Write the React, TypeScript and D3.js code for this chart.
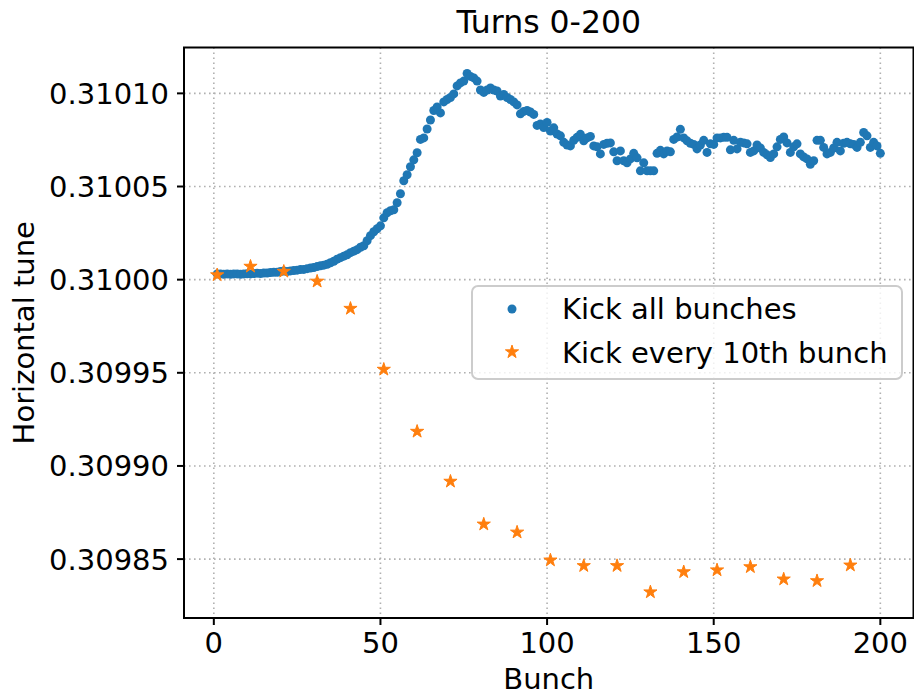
import React from "react";
import * as d3 from "d3";

// bunch index for the "all bunches" series
const bunchesAll = d3.range(1, 201);
const tuneAll = [
  0.3100031, 0.3100031, 0.3100029, 0.3100031, 0.3100029, 0.3100031, 0.3100031, 0.3100029, 0.3100031, 0.3100032,
  0.3100031, 0.3100033, 0.3100035, 0.3100033, 0.3100036, 0.3100036, 0.3100038, 0.310004, 0.310004, 0.3100044,
  0.3100046, 0.3100044, 0.3100047, 0.3100049, 0.3100051, 0.3100054, 0.3100055, 0.3100059, 0.3100062, 0.3100065,
  0.310007, 0.3100074, 0.3100078, 0.3100083, 0.3100091, 0.3100099, 0.310011, 0.3100118, 0.3100126, 0.3100134,
  0.3100145, 0.3100153, 0.3100161, 0.3100174, 0.3100182, 0.3100209, 0.3100236, 0.3100257, 0.3100273, 0.3100289,
  0.3100332, 0.3100359, 0.310037, 0.3100375, 0.3100413, 0.3100461, 0.3100531, 0.3100563, 0.3100606, 0.3100643,
  0.3100681, 0.3100753, 0.3100761, 0.3100809, 0.3100857, 0.3100908, 0.3100927, 0.3100895, 0.3100954, 0.3100967,
  0.3100978, 0.3100997, 0.310104, 0.3101056, 0.3101066, 0.3101107, 0.3101091, 0.3101083, 0.3101066, 0.3101018,
  0.3101005, 0.3101018, 0.3101029, 0.3101018, 0.3101013, 0.3100986, 0.3100994, 0.3100978, 0.3100967, 0.3100954,
  0.3100938, 0.310089, 0.3100903, 0.3100908, 0.31009, 0.3100887, 0.3100828, 0.3100836, 0.3100817, 0.3100844,
  0.3100798, 0.3100815, 0.3100782, 0.3100772, 0.3100737, 0.3100723, 0.3100718, 0.3100748, 0.3100764, 0.310078,
  0.3100745, 0.3100761, 0.3100769, 0.3100718, 0.3100713, 0.3100675, 0.3100726, 0.3100732, 0.3100734, 0.3100686,
  0.3100638, 0.3100691, 0.3100638, 0.3100627, 0.3100648, 0.3100678, 0.3100654, 0.3100584, 0.3100627, 0.3100584,
  0.3100584, 0.3100584, 0.3100678, 0.3100694, 0.3100675, 0.3100691, 0.3100686, 0.3100753, 0.3100766, 0.3100807,
  0.3100761, 0.3100745, 0.3100732, 0.3100726, 0.3100702, 0.3100723, 0.3100748, 0.3100683, 0.3100729, 0.3100726,
  0.3100761, 0.3100761, 0.3100764, 0.3100764, 0.3100697, 0.3100748, 0.3100702, 0.3100737, 0.3100734, 0.3100729,
  0.3100683, 0.3100691, 0.3100723, 0.3100707, 0.3100683, 0.310067, 0.3100656, 0.3100675, 0.3100713, 0.3100753,
  0.3100766, 0.3100734, 0.3100683, 0.3100713, 0.3100729, 0.3100675, 0.3100659, 0.3100648, 0.3100619, 0.3100638,
  0.3100748, 0.3100748, 0.310071, 0.3100675, 0.3100683, 0.3100707, 0.3100737, 0.3100691, 0.3100732, 0.3100737,
  0.3100729, 0.3100726, 0.310071, 0.3100737, 0.310079, 0.3100772, 0.310071, 0.3100737, 0.3100718, 0.3100678,
];

const bunchesTenth = [1, 11, 21, 31, 41, 51, 61, 71, 81, 91, 101, 111, 121, 131, 141, 151, 161, 171, 181, 191];
const tuneTenth = [
  0.3100025, 0.3100071, 0.3100044, 0.3099991, 0.3099845, 0.3099518, 0.3099185, 0.3098917, 0.3098687, 0.3098644,
  0.3098494, 0.3098464, 0.3098464, 0.3098323, 0.3098431, 0.3098441, 0.3098458, 0.3098392, 0.3098383, 0.3098467,
];

const xTicks = [0, 50, 100, 150, 200];
const yTicks = [0.30985, 0.3099, 0.30995, 0.31, 0.31005, 0.3101];
const seriesNames = ["Kick all bunches", "Kick every 10th bunch"];

const W = 914;
const H = 696;
const left = 184;
const right = 913.5;
const top = 47.5;
const bottom = 618;
const font = "DejaVu Sans, sans-serif";
const blue = "#1f77b4";
const orange = "#ff7f0e";

// matplotlib style 5% margins
const pad = (lo: number, hi: number) => {
  const m = (hi - lo) * 0.05;
  return [lo - m, hi + m];
};

const App = () => {
  const x = d3.scaleLinear().domain(pad(1, 200)).range([left, right]);
  const allY = [...tuneAll, ...tuneTenth];
  const y = d3.scaleLinear().domain(pad(d3.min(allY)!, d3.max(allY)!)).range([bottom, top]);
  const fmt = d3.format(".5f");
  const star = d3.symbol(d3.symbolStar, 54)();

  return (
    <div style={{ position: "absolute", left: 0, top: 0 }}>
      <svg width={W} height={H} style={{ display: "block", background: "#fff" }} fontFamily={font}>
        {/* grid */}
        {xTicks.map((t) => (
          <line key={"gx" + t} x1={x(t)} x2={x(t)} y1={top} y2={bottom}
            stroke="#b0b0b0" strokeWidth={1.6} strokeDasharray="1.6,3.4" />
        ))}
        {yTicks.map((t) => (
          <line key={"gy" + t} x1={left} x2={right} y1={y(t)} y2={y(t)}
            stroke="#b0b0b0" strokeWidth={1.6} strokeDasharray="1.6,3.4" />
        ))}

        {/* series */}
        {bunchesAll.map((b, i) => (
          <circle key={"a" + b} cx={x(b)} cy={y(tuneAll[i])} r={4.5} fill={blue} />
        ))}
        {bunchesTenth.map((b, i) => (
          <path key={"t" + b} d={star} transform={`translate(${x(b)},${y(tuneTenth[i])})`}
            fill={orange} stroke={orange} strokeWidth={1} strokeLinejoin="round" />
        ))}

        {/* frame */}
        <rect x={left} y={top} width={right - left} height={bottom - top}
          fill="none" stroke="#000" strokeWidth={2} />

        {/* x axis */}
        {xTicks.map((t) => (
          <g key={"xt" + t}>
            <line x1={x(t)} x2={x(t)} y1={bottom} y2={bottom + 7} stroke="#000" strokeWidth={2} />
            <text x={x(t)} y={653} textAnchor="middle" fontSize={29}>{t}</text>
          </g>
        ))}
        {/* y axis */}
        {yTicks.map((t) => (
          <g key={"yt" + t}>
            <line x1={left - 7} x2={left} y1={y(t)} y2={y(t)} stroke="#000" strokeWidth={2} />
            <text x={169} y={y(t) + 10.5} textAnchor="end" fontSize={29}>{fmt(t)}</text>
          </g>
        ))}

        <text x={(left + right) / 2} y={33} textAnchor="middle" fontSize={31.5}>Turns 0-200</text>
        <text x={(left + right) / 2} y={689} textAnchor="middle" fontSize={29}>Bunch</text>
        <text transform={`translate(34,${(top + bottom) / 2}) rotate(-90)`} textAnchor="middle" fontSize={29}>
          Horizontal tune
        </text>

        {/* legend */}
        <rect x={472} y={286} width={430} height={93} rx={6} fill="#fff" fillOpacity={0.8}
          stroke="#cccccc" strokeWidth={2} />
        <circle cx={512} cy={309} r={4.5} fill={blue} />
        <path d={star} transform="translate(512,352)" fill={orange} stroke={orange} strokeWidth={1} strokeLinejoin="round" />
        <text x={562} y={319} fontSize={29}>{seriesNames[0]}</text>
        <text x={562} y={362.5} fontSize={29}>{seriesNames[1]}</text>
      </svg>
    </div>
  );
};

export default App;
